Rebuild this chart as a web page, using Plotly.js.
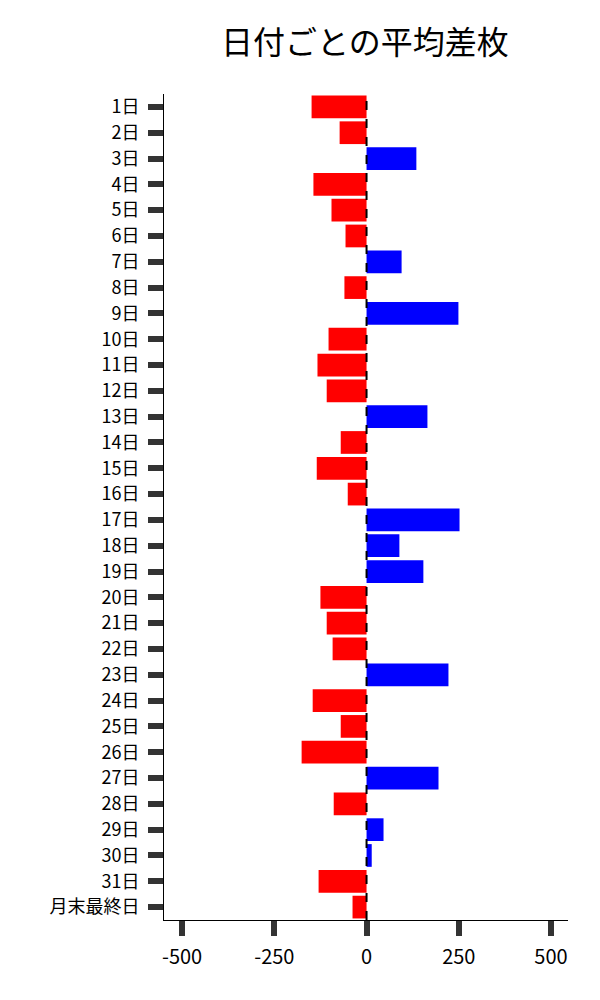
<!DOCTYPE html>
<html>
<head>
<meta charset="utf-8">
<script src="https://cdn.plot.ly/plotly-3.0.1.min.js"></script>
<style>
  body { margin: 0; background: #fff; }
  #chart { width: 600px; height: 1000px; }
</style>
</head>
<body>
<div id="chart"></div>
<script>
// day labels and average difference per day
var days = ['1日','2日','3日','4日','5日','6日','7日','8日','9日','10日',
            '11日','12日','13日','14日','15日','16日','17日','18日','19日','20日',
            '21日','22日','23日','24日','25日','26日','27日','28日','29日','30日',
            '31日','月末最終日'];
var avgDiff = [-149, -73, 135, -144, -95, -57, 95, -60, 249, -103,
               -133, -108, 165, -70, -135, -51, 252, 89, 154, -125,
               -108, -92, 222, -146, -70, -176, 195, -89, 46, 14,
               -130, -38];
var xTicks = [-500, -250, 0, 250, 500];

var font = 'Noto Sans CJK JP, Noto Sans, sans-serif';

// red for negative days, blue for positive
var colors = avgDiff.map(function (v) { return v < 0 ? '#ff0000' : '#0000ff'; });

var trace = {
    type: 'bar',
    orientation: 'h',
    x: avgDiff,
    y: days,
    marker: { color: colors, line: { width: 0 } },
    hoverinfo: 'x+y'
};

var layout = {
    width: 600,
    height: 1000,
    margin: { l: 164, r: 32, t: 94, b: 80 },
    paper_bgcolor: '#fff',
    plot_bgcolor: '#fff',
    showlegend: false,
    bargap: 0.12,
    font: { family: font, color: '#000', size: 20 },
    title: {
        text: '日付ごとの平均差枚',
        font: { family: font, size: 32, color: '#000' },
        x: 0.608, xanchor: 'center',
        y: 0.957, yanchor: 'middle'
    },
    xaxis: {
        range: [-549, 546],
        tickvals: xTicks,
        ticktext: xTicks.map(String),
        showgrid: false,
        zeroline: false,
        showline: true,
        linecolor: '#000',
        linewidth: 1,
        ticks: 'outside',
        ticklen: 15,
        tickwidth: 6,
        tickcolor: '#333',
        ticklabelstandoff: 4,
        tickfont: { family: font, size: 20, color: '#000' }
    },
    yaxis: {
        type: 'category',
        autorange: 'reversed',
        showgrid: false,
        zeroline: false,
        showline: true,
        linecolor: '#000',
        linewidth: 1,
        ticks: 'outside',
        ticklen: 15,
        tickwidth: 6,
        tickcolor: '#333',
        ticklabelstandoff: 5,
        tickfont: { family: font, size: 18, color: '#000' }
    },
    shapes: [{
        type: 'line',
        xref: 'x', yref: 'paper',
        x0: 0, x1: 0, y0: 0, y1: 1,
        line: { color: '#000', width: 2, dash: 'dash' }
    }]
};

Plotly.newPlot('chart', [trace], layout, { displayModeBar: false, staticPlot: true });
</script>
</body>
</html>
